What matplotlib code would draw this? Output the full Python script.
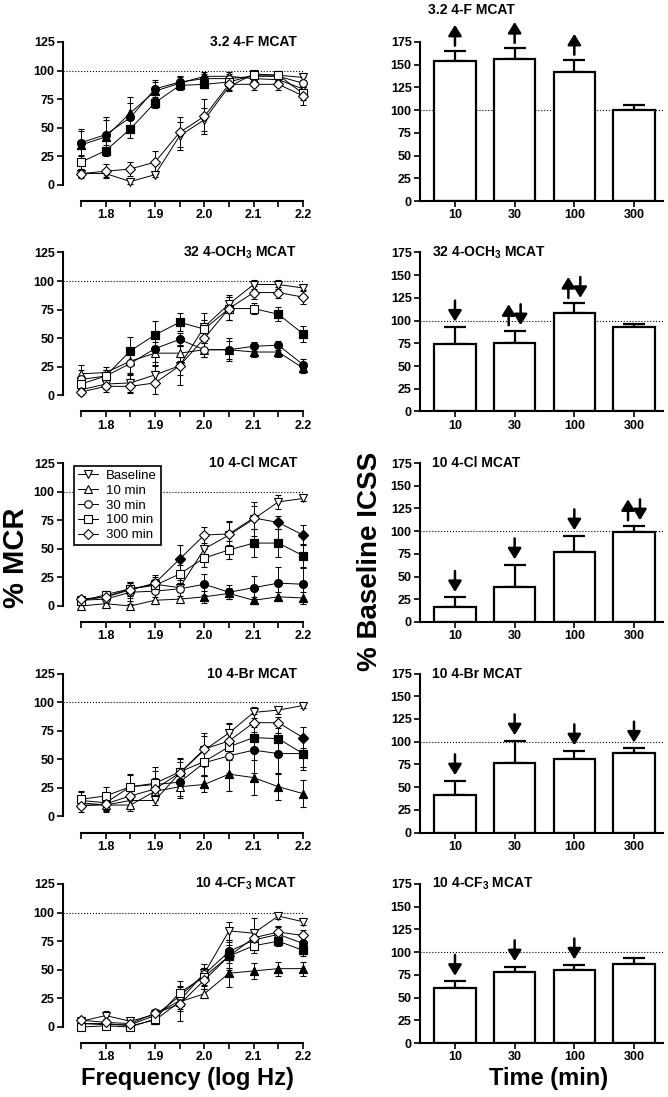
import matplotlib
matplotlib.use('Agg')
import matplotlib.pyplot as plt
from matplotlib.lines import Line2D
import numpy as np

plt.rcParams['font.family'] = ['Liberation Sans', 'DejaVu Sans']
plt.rcParams['font.weight'] = 'bold'
plt.rcParams['mathtext.fontset'] = 'custom'
plt.rcParams['mathtext.rm'] = 'Liberation Sans:bold'
plt.rcParams['mathtext.default'] = 'rm'

# ---- data ----
freq = [1.75, 1.8, 1.85, 1.9, 1.95, 2.0, 2.05, 2.1, 2.15, 2.2]
freq_labels = ['', '1.8', '', '1.9', '', '2.0', '', '2.1', '', '2.2']
series = ['Baseline', '10 min', '30 min', '100 min', '300 min']
times = ['10', '30', '100', '300']
titles = ['3.2 4-F MCAT', '32 4-OCH$_3$ MCAT', '10 4-Cl MCAT',
          '10 4-Br MCAT', '10 4-CF$_3$ MCAT']

# % MCR, rows: Baseline, 10, 30, 100, 300 min
mcr_f = [[10, 10, 3, 9, 43, 57, 86, 97, 96, 94],
         [35, 42, 63, 82, 89, 95, 95, 93, 92, 84],
         [37, 44, 59, 84, 90, 93, 93, 95, 95, 89],
         [20, 30, 49, 72, 87, 88, 90, 96, 96, 80],
         [10, 12, 14, 20, 46, 60, 88, 88, 88, 78]]
sem_f = [[3, 3, 2, 2, 12, 10, 4, 3, 3, 4],
         [12, 15, 14, 8, 5, 4, 4, 3, 3, 8],
         [12, 15, 13, 8, 5, 4, 4, 3, 3, 5],
         [6, 5, 8, 5, 4, 3, 4, 3, 3, 6],
         [4, 6, 6, 10, 13, 15, 5, 5, 5, 8]]
sig_f = [[], [0, 1, 2, 3, 4, 5], [0, 1, 2, 3, 4, 5], [1, 2, 3, 4, 5], []]

mcr_och3 = [[5, 10, 11, 18, 26, 60, 80, 97, 97, 94],
            [19, 20, 30, 37, 37, 40, 40, 38, 38, 24],
            [14, 17, 28, 41, 49, 40, 40, 43, 44, 27],
            [10, 17, 39, 53, 64, 58, 76, 76, 71, 54],
            [3, 8, 8, 11, 26, 50, 76, 90, 90, 86]]
sem_och3 = [[3, 4, 8, 8, 8, 12, 8, 4, 4, 3],
            [8, 5, 10, 10, 7, 6, 8, 4, 4, 4],
            [8, 5, 10, 12, 6, 6, 10, 4, 4, 5],
            [5, 5, 12, 12, 8, 8, 10, 5, 6, 7],
            [3, 5, 6, 10, 17, 12, 10, 6, 5, 6]]
sig_och3 = [[], [6, 7, 8, 9], [3, 4, 6, 7, 8, 9], [2, 3, 4, 8, 9], []]

mcr_cl = [[5, 8, 15, 19, 16, 50, 62, 76, 91, 94],
          [0, 2, 0, 5, 6, 8, 11, 5, 8, 7],
          [5, 6, 12, 13, 15, 19, 12, 16, 20, 19],
          [4, 10, 15, 18, 28, 42, 49, 55, 55, 44],
          [6, 8, 14, 20, 41, 62, 63, 77, 73, 62]]
sem_cl = [[2, 3, 3, 6, 4, 10, 12, 15, 6, 2],
          [2, 2, 2, 3, 3, 5, 5, 3, 4, 5],
          [3, 3, 8, 8, 8, 9, 6, 10, 14, 14],
          [3, 3, 6, 6, 8, 8, 8, 12, 12, 10],
          [3, 3, 7, 7, 12, 7, 10, 10, 6, 9]]
sig_cl = [[], [5, 6, 7, 8, 9], [5, 6, 7, 8, 9], [7, 8, 9], [4, 8, 9]]

mcr_br = [[10, 10, 14, 14, 38, 58, 73, 91, 93, 97],
          [12, 10, 10, 22, 26, 28, 37, 34, 26, 20],
          [14, 12, 26, 28, 30, 47, 53, 58, 55, 55],
          [15, 18, 26, 29, 39, 48, 61, 69, 68, 55],
          [9, 11, 18, 24, 38, 59, 66, 82, 82, 69]]
sem_br = [[3, 4, 5, 4, 10, 12, 8, 5, 3, 2],
          [5, 5, 5, 7, 10, 7, 15, 15, 12, 12],
          [7, 8, 10, 12, 12, 12, 15, 20, 18, 12],
          [7, 8, 11, 14, 12, 12, 12, 12, 14, 14],
          [5, 5, 10, 10, 12, 14, 16, 8, 5, 9]]
sig_br = [[], [5, 6, 7, 8, 9], [4, 7, 8, 9], [7, 8, 9], [9]]

mcr_cf3 = [[5, 10, 5, 11, 23, 47, 84, 82, 97, 92],
           [3, 3, 1, 6, 22, 29, 47, 49, 51, 51],
           [3, 2, 2, 10, 27, 46, 66, 76, 81, 73],
           [0, 1, 0, 7, 30, 44, 62, 71, 75, 67],
           [6, 4, 3, 12, 20, 41, 62, 78, 83, 80]]
sem_cf3 = [[3, 4, 2, 3, 7, 5, 8, 13, 3, 3],
           [2, 2, 2, 3, 8, 4, 12, 7, 6, 6],
           [2, 2, 2, 4, 9, 9, 10, 8, 6, 6],
           [2, 2, 2, 4, 10, 8, 12, 6, 4, 5],
           [2, 3, 3, 4, 15, 8, 10, 6, 5, 5]]
sig_cf3 = [[], [6, 7, 8, 9], [6, 9], [6, 8, 9], []]

# % baseline ICSS (total stimulations) at 10, 30, 100, 300 min
icss_f = [154, 156, 142, 100]
icss_f_err = [11, 12, 13, 6]
icss_och3 = [74, 75, 108, 93]
icss_och3_err = [19, 14, 11, 3]
icss_cl = [16, 39, 77, 99]
icss_cl_err = [11, 24, 18, 7]
icss_br = [41, 76, 81, 88]
icss_br_err = [16, 25, 9, 5]
icss_cf3 = [61, 78, 80, 87]
icss_cf3_err = [7, 6, 6, 7]

arrows_f = ['up', 'up', 'up', '']
arrows_och3 = ['down', 'updown', 'updown', '']
arrows_cl = ['down', 'down', 'down', 'updown']
arrows_br = ['down', 'down', 'down', 'down']
arrows_cf3 = ['down', 'down', 'down', '']

curves = [(mcr_f, sem_f, sig_f), (mcr_och3, sem_och3, sig_och3),
          (mcr_cl, sem_cl, sig_cl), (mcr_br, sem_br, sig_br),
          (mcr_cf3, sem_cf3, sig_cf3)]
bars = [(icss_f, icss_f_err, arrows_f), (icss_och3, icss_och3_err, arrows_och3),
        (icss_cl, icss_cl_err, arrows_cl), (icss_br, icss_br_err, arrows_br),
        (icss_cf3, icss_cf3_err, arrows_cf3)]

markers = ['v', '^', 'o', 's', 'D']
msizes = [6, 6, 5.5, 5.2, 4.6]

W, H = 668, 1097
fig = plt.figure(figsize=(W / 100, H / 100), dpi=100)


def box(x0, y0, x1, y1):
    return [x0 / W, 1 - y1 / H, (x1 - x0) / W, (y1 - y0) / H]


def arrow(ax, x, y0, y1):
    ax.annotate('', xy=(x, y1), xytext=(x, y0),
                arrowprops=dict(arrowstyle='-|>,head_width=0.4,head_length=0.65',
                                lw=1.8, color='k', shrinkA=0, shrinkB=0,
                                mutation_scale=10),
                annotation_clip=False)


def style(ax):
    for s in ['top', 'right']:
        ax.spines[s].set_visible(False)
    for s in ['left', 'bottom']:
        ax.spines[s].set_linewidth(1.5)
    ax.tick_params(width=1.2, length=4, labelsize=9, pad=2)


for r in range(5):
    dy = 210.5 * r
    # ---- left: frequency-rate curves ----
    ax = fig.add_axes(box(63, 42 + dy, 310, 201 + dy))
    mcr, sem, sig = curves[r]
    ax.hlines(100, 1.7135, freq[-1], colors='k', linestyles=':', lw=0.8, zorder=1)
    for k in range(5):
        ax.errorbar(freq, mcr[k], yerr=sem[k], color='k', lw=0.7,
                    elinewidth=0.7, capsize=2.2, capthick=0.7,
                    marker=markers[k], ms=msizes[k], mfc='white', mec='k',
                    mew=0.8, zorder=3)
        if sig[k]:
            ax.plot([freq[i] for i in sig[k]], [mcr[k][i] for i in sig[k]],
                    ls='none', marker=markers[k], ms=msizes[k], mfc='k',
                    mec='k', mew=0.8, zorder=4)
    ax.set_xlim(1.7135, 2.2142)
    ax.set_ylim(-14, 125)
    style(ax)
    ax.spines['left'].set_bounds(0, 125)
    ax.spines['bottom'].set_bounds(1.75, 2.2)
    ax.set_yticks([0, 25, 50, 75, 100, 125])
    ax.set_xticks(freq)
    ax.set_xticklabels(freq_labels)
    ax.text(2.188, 125, titles[r], ha='right', va='center', fontsize=10)
    if r == 2:
        handles = [Line2D([], [], color='k', lw=0.7, marker=markers[k],
                          ms=msizes[k], mfc='white', mec='k', mew=0.8)
                   for k in range(5)]
        leg = ax.legend(handles, series, loc='upper left',
                        bbox_to_anchor=(0.035, 1.0), fancybox=False,
                        edgecolor='k', framealpha=1, handlelength=1.5,
                        handletextpad=0.6, labelspacing=0.2, borderpad=0.3,
                        borderaxespad=0.2,
                        prop={'size': 9.5, 'weight': 'normal'})
        leg.get_frame().set_linewidth(1.2)

    # ---- right: % baseline ICSS bars ----
    bx = fig.add_axes(box(420, 42 + dy, 663, 201 + dy))
    vals, err, arr = bars[r]
    xs = np.arange(len(times))
    bx.axhline(100, color='k', ls=':', lw=0.8, zorder=0.5)
    bx.errorbar(xs, vals, yerr=[np.zeros(len(vals)), err], fmt='none',
                ecolor='k', elinewidth=1.6, capsize=8, capthick=1.6, zorder=1)
    bx.bar(xs, vals, width=0.69, color='white', edgecolor='k', lw=1.6, zorder=2)
    for i, a in enumerate(arr):
        top = vals[i] + err[i]
        if a == 'up':
            arrow(bx, xs[i], top + 6, top + 29)
        elif a == 'down':
            arrow(bx, xs[i], top + 29, top + 6)
        elif a == 'updown':
            arrow(bx, xs[i] - 0.1, top + 6, top + 29)
            arrow(bx, xs[i] + 0.1, top + 29, top + 6)
    bx.set_xlim(-0.586, 3.486)
    bx.set_ylim(0, 175)
    style(bx)
    bx.set_yticks([0, 25, 50, 75, 100, 125, 150, 175])
    bx.set_xticks(xs)
    bx.set_xticklabels(times)
    if r == 0:
        bx.text(-0.45, 210, titles[r], ha='left', va='center', fontsize=10,
                clip_on=False)
    else:
        bx.text(-0.385, 175, titles[r], ha='left', va='center', fontsize=10)

fig.text(16 / W, 1 - 558 / H, '% MCR', rotation=90, ha='center', va='center',
         fontsize=21)
fig.text(370 / W, 1 - 561 / H, '% Baseline ICSS', rotation=90, ha='center',
         va='center', fontsize=20)
fig.text(187 / W, 1 - 1078 / H, 'Frequency (log Hz)', ha='center', va='center',
         fontsize=17)
fig.text(549 / W, 1 - 1078 / H, 'Time (min)', ha='center', va='center',
         fontsize=17)

fig.savefig('out.png', dpi=100)
